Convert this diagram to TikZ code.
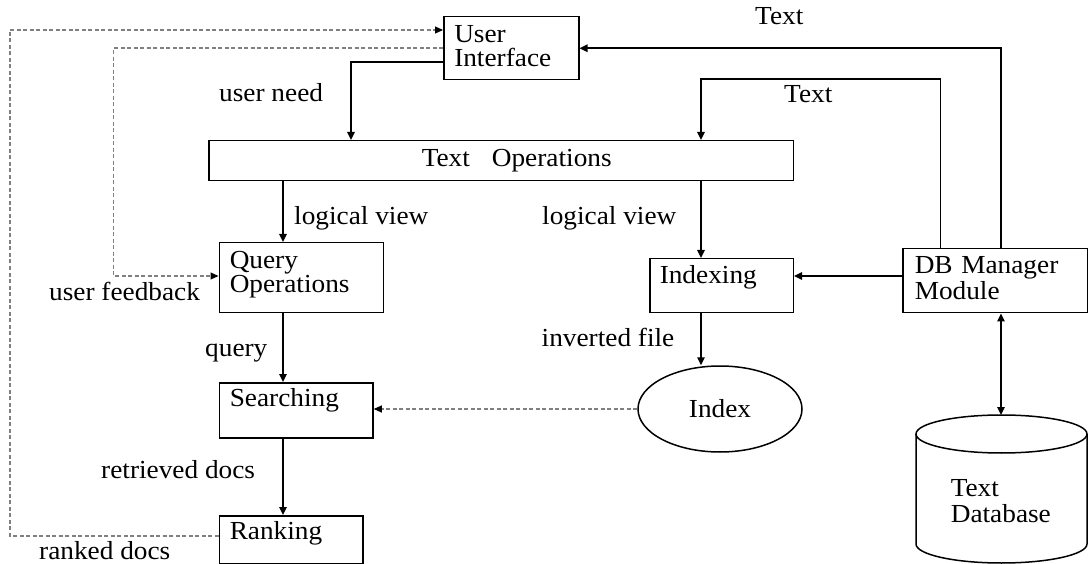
\documentclass[tikz,border=0pt]{standalone}
\usepackage{fontspec}
\setmainfont{Liberation Serif}[FakeStretch=1.05]
\usetikzlibrary{arrows.meta,shapes.geometric}
\begin{document}
\begin{tikzpicture}[x=1pt,y=-1pt,
  box/.style={draw,line width=1.5pt,anchor=north west,inner ysep=0pt,inner xsep=10.5pt,align=left,font=\fontsize{26}{24}\selectfont},
  lbl/.style={anchor=base west,inner sep=0pt,font=\fontsize{26}{24}\selectfont},
  arr/.style={line width=1.6pt,-{Triangle[length=8pt,width=7.5pt]}},
  darr/.style={black!50,line width=1.1pt,dash pattern=on 4pt off 2.5pt,-{Triangle[length=8pt,width=7pt,black]}},
  biarr/.style={line width=1.6pt,{Triangle[length=8pt,width=7.5pt]}-{Triangle[length=8pt,width=7.5pt]}}]
\path[use as bounding box] (0,0) rectangle (1088,564);

% boxes
\node[box,text width=114pt,text height=26pt,text depth=37pt,font=\fontsize{26}{24}\selectfont] (ui) at (443,16) {User\\Interface};
\node[box,inner xsep=0pt,text width=584.5pt,text height=26pt,text depth=14pt] (to) at (208,140) {\hspace*{213pt}Text\hspace{22pt}Operations};
\node[box,text width=143.2pt,text height=26pt,text depth=44pt] (qo) at (218.5,242) {Query\\Operations};
\node[box,text width=132.8pt,text height=24pt,text depth=31pt] (se) at (218.5,382) {Searching};
\node[box,text width=122.9pt,text height=24pt,text depth=24pt] (rk) at (218.5,515) {Ranking};
\node[box,inner xsep=10pt,text width=123.5pt,text height=25pt,text depth=29pt] (ix) at (649,258) {Indexing};
\node[box,inner xsep=12pt,text width=161pt,text height=25pt,text depth=39pt,font=\fontsize{26}{26}\selectfont] (db) at (902,248) {DB Manager\\Module};
\node[ellipse,draw,line width=1.5pt,minimum width=164pt,minimum height=86pt,inner sep=0pt,font=\fontsize{26}{24}\selectfont] (idx) at (720,409) {Index};

% text database cylinder
\draw[line width=1.5pt] (916,434) -- (916,544) arc[start angle=180,end angle=0,x radius=85.5,y radius=19] -- (1087,434);
\draw[line width=1.5pt] (1001.5,434) ellipse[x radius=85.5,y radius=19];
\node[anchor=north west,inner sep=0pt,align=left,text width=115pt,text height=20pt,text depth=30pt,font=\fontsize{26}{26}\selectfont] (tdb) at (950.6,476) {Text\\Database};

% labels
\node[lbl] (t1) at (755,25) {Text};
\node[lbl] (l1) at (219,102) {user need};
\node[lbl] (t2) at (784,103) {Text};
\node[lbl] (l2) at (294,225) {logical view};
\node[lbl] (l3) at (542,225) {logical view};
\node[lbl] (l4) at (49,301) {user feedback};
\node[lbl] (l5) at (205,356) {query};
\node[lbl] (l6) at (541.5,346) {inverted file};
\node[lbl] (l7) at (101,478) {retrieved docs};
\node[lbl] (l8) at (39,559) {ranked docs};

% bend coordinates
\coordinate (c1) at (1001,48);
\coordinate (c2) at (940.6,79);
\coordinate (c3) at (701,79);
\coordinate (c4) at (351,62);
\coordinate (c5) at (10,536);
\coordinate (c6) at (10,30);
\coordinate (c7) at (113.6,48);
\coordinate (c8) at (113.6,276);
\coordinate (c9) at (283,0);
\coordinate (c10) at (0,276);
\coordinate (c11) at (1001,415);

% connectors
\draw[arr] (db.north -| c1) |- (ui.east);
\draw[arr] (db.north -| c2) -- (c2) -- (c3) -- (to.north -| c3);
\draw[arr] (ui.west |- c4) -- (c4) -- (to.north -| c4);
\draw[darr] (rk.west |- c5) -- (c5) -- (c6) -- (ui.west |- c6);
\draw[darr] (ui.west |- c7) -- (c7) -- (c8) -- (qo.west |- c8);
\draw[arr] (to.south -| c9) -- (qo.north -| c9);
\draw[arr] (to.south -| c3) -- (ix.north -| c3);
\draw[arr] (db.west |- c10) -- (ix.east |- c10);
\draw[arr] (ix.south -| c3) -- (idx.north -| c3);
\draw[arr] (qo.south -| c9) -- (se.north -| c9);
\draw[arr] (se.south -| c9) -- (rk.north -| c9);
\draw[darr] (idx.west) -- (se.east |- idx.west);
\draw[biarr] (db.south -| c11) -- (c11);
\end{tikzpicture}
\end{document}
